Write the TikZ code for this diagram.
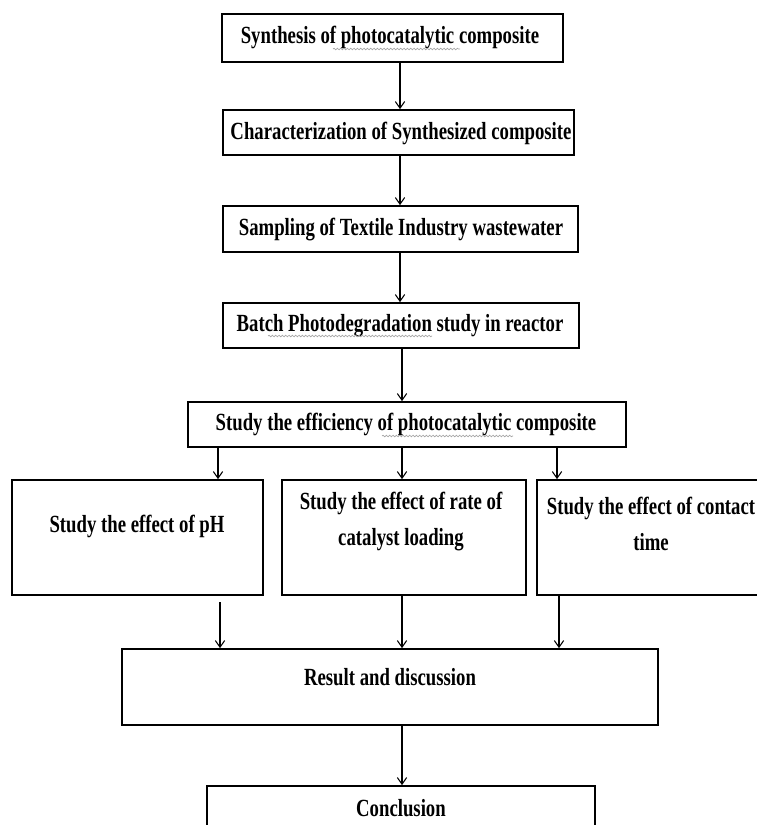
\documentclass[tikz,border=0pt]{standalone}
\usepackage{fontspec}
\setmainfont{Liberation Serif}[FakeStretch=0.76]
\usetikzlibrary{arrows.meta,decorations.pathmorphing}
\tikzset{
  box/.style={draw=black,line width=1.3pt,inner sep=0pt,rectangle},
  lbl/.style={font=\fontsize{18.5}{27}\selectfont\bfseries,inner sep=0pt,align=center,anchor=center},
  arr/.style={draw=black,line width=0.9pt,-{Straight Barb[length=5pt,width=7pt,line width=0.8pt]}},
  squig/.style={draw=gray!70,line width=0.5pt,decorate,decoration={snake,amplitude=0.6pt,segment length=2.5pt}}
}
\begin{document}
\begin{tikzpicture}[x=0.75pt,y=-0.75pt]
\useasboundingbox (0,0) rectangle (757,825);
\clip (0,0) rectangle (757,825);
% boxes
\node[box,minimum width=255.75pt,minimum height=36pt]    (b1) at (392.5,38) {};
\node[box,minimum width=263.25pt,minimum height=33.75pt] (b2) at (398.5,132.5) {};
\node[box,minimum width=266.25pt,minimum height=34.5pt]  (b3) at (400.5,229) {};
\node[box,minimum width=267pt,minimum height=33.75pt]    (b4) at (401,325.5) {};
\node[box,minimum width=328.5pt,minimum height=33.75pt]  (b5) at (407,424.5) {};
\node[box,minimum width=188.25pt,minimum height=86.25pt] (b6) at (137.5,537.5) {};
\node[box,minimum width=183pt,minimum height=86.25pt]    (b7) at (404,537.5) {};
\node[box,minimum width=189.75pt,minimum height=86.25pt] (b8) at (663.5,537.5) {};
\node[box,minimum width=402pt,minimum height=57pt]       (res) at (390,687) {};
\node[box,minimum width=291pt,minimum height=60pt]       (conc) at (401,826) {};
% labels
\node[lbl] (t1) at (390,37) {Synthesis of photocatalytic composite};
\node[lbl] (t2) at (401,133) {Characterization of Synthesized composite};
\node[lbl] (t3) at (401,230) {Sampling of Textile Industry wastewater};
\node[lbl] (t4) at (400,326) {Batch Photodegradation study in reactor};
\node[lbl] (t5) at (406,424) {Study the efficiency of photocatalytic composite};
\node[lbl] (t6) at (137,526) {Study the effect of pH};
\node[lbl] (t7) at (401,522) {Study the effect of rate of\\catalyst loading};
\node[lbl] (t8) at (651,524) {Study the effect of contact\\time};
\node[lbl] (t9) at (390,677) {Result and discussion};
\node[lbl] (t10) at (401,808) {Conclusion};
% spell-check underlines
\draw[squig] (333,49) -- (460,49);
\draw[squig] (268,336) -- (432,336);
\draw[squig] (382,436) -- (513,436);
% x positions of connectors
\coordinate (xa) at (400,0);
\coordinate (xb) at (402,0);
\coordinate (xl) at (218,0);
\coordinate (xr) at (557,0);
\coordinate (xl2) at (220,0);
\coordinate (xr2) at (559,0);
\coordinate (gap) at (0,602);
% connectors
\draw[arr] (b1.south -| xa) -- (b2.north -| xa);
\draw[arr] (b2.south -| xa) -- (b3.north -| xa);
\draw[arr] (b3.south -| xa) -- (b4.north -| xa);
\draw[arr] (b4.south -| xb) -- (b5.north -| xb);
\draw[arr] (b5.south -| xl) -- (b6.north -| xl);
\draw[arr] (b5.south -| xb) -- (b7.north -| xb);
\draw[arr] (b5.south -| xr) -- (b8.north -| xr);
\draw[arr] (gap -| xl2) -- (res.north -| xl2);
\draw[arr] (b7.south -| xb) -- (res.north -| xb);
\draw[arr] (b8.south -| xr2) -- (res.north -| xr2);
\draw[arr] (res.south -| xb) -- (conc.north -| xb);
\end{tikzpicture}
\end{document}
